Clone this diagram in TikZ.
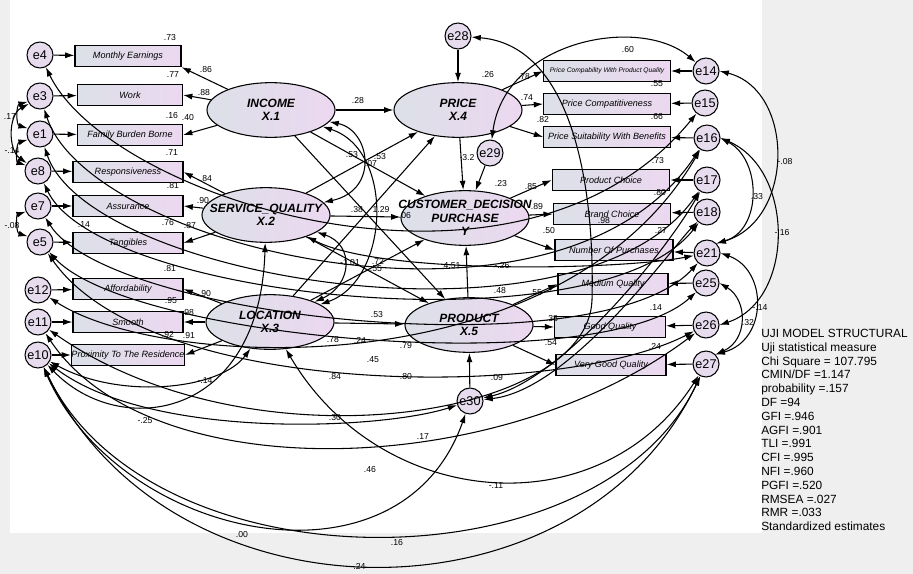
\documentclass[tikz,border=0pt]{standalone}
\usepackage{fontspec}
\setmainfont{Liberation Sans}
\usetikzlibrary{arrows.meta,shapes.geometric}
\definecolor{bgray}{HTML}{EFEFEF}
\definecolor{boxL}{HTML}{DCE0E8}
\definecolor{boxR}{HTML}{ECD8F0}
\definecolor{errF}{HTML}{E6DCEE}
\begin{document}
\begin{tikzpicture}[x=0.75pt,y=-0.75pt,
  ebox/.style={draw,circle,minimum size=19.5pt,inner sep=0pt,fill=errF,line width=0.8pt,font=\fontsize{9.5}{10}\selectfont},
  ind/.style={draw,rectangle,minimum height=16pt,inner sep=0pt,left color=boxL,right color=boxR,line width=0.8pt,font=\fontsize{6.8}{7.5}\selectfont\itshape},
  lat/.style={draw,ellipse,minimum width=96pt,minimum height=41pt,inner sep=0pt,left color=boxL,right color=boxR,line width=0.8pt},
  latt/.style={font=\fontsize{9}{10}\selectfont\bfseries\itshape,align=center,inner sep=0pt},
  lb/.style={font=\fontsize{6.5}{7}\selectfont,inner sep=0pt},
  arr/.style={-{Latex[length=7pt,width=4.5pt]},line width=0.8pt},
  cov/.style={{Latex[length=7pt,width=4.5pt]}-{Latex[length=7pt,width=4.5pt]},line width=0.8pt},
]
\fill[bgray] (0,0) rectangle (913,574);
\fill[white] (10,0) rectangle (762,533);
\useasboundingbox (0,0) rectangle (913,574);

% left error terms
\node[ebox] (e4) at (40,55) {e4};
\node[ebox] (e3) at (40,96) {e3};
\node[ebox] (e1) at (40,134) {e1};
\node[ebox] (e8) at (38,171) {e8};
\node[ebox] (e7) at (38,206) {e7};
\node[ebox] (e5) at (40,242) {e5};
\node[ebox] (e12) at (38,290) {e12};
\node[ebox] (e11) at (38,322) {e11};
\node[ebox] (e10) at (38,355) {e10};

% left indicators
\node[ind,minimum width=79.5pt] (m1) at (128,56) {Monthly Earnings};
\node[ind,minimum width=78.75pt] (m2) at (130,95) {Work};
\node[ind,minimum width=78.75pt] (m3) at (130,135) {Family Burden Borne};
\node[ind,minimum width=82.5pt] (m4) at (128,172) {Responsiveness};
\node[ind,minimum width=82.5pt] (m5) at (128,206) {Assurance};
\node[ind,minimum width=82.5pt] (m6) at (128,243) {Tangibles};
\node[ind,minimum width=82.5pt] (m7) at (128,289) {Affordability};
\node[ind,minimum width=82.5pt] (m8) at (128,322) {Smooth};
\node[ind,minimum width=82.5pt] (m9) at (128,355) {Proximity To The Residence};

% latent variables
\node[lat,label={[latt]center:{INCOME\\X.1}}] (X1) at (271,110) {};
\node[lat,label={[latt]center:{SERVICE\_QUALITY\\X.2}}] (X2) at (266,215) {};
\node[lat,label={[latt]center:{LOCATION\\X.3}}] (X3) at (270,322) {};
\node[lat,label={[latt]center:{PRICE\\X.4}}] (X4) at (458,110) {};
\node[lat,label={[latt]center:{CUSTOMER\_DECISION\\PURCHASE\\Y}}] (Y) at (465,218) {};
\node[lat,label={[latt]center:{PRODUCT\\X.5}}] (X5) at (469,325) {};

% structural disturbances
\node[ebox] (e28) at (458,36) {e28};
\node[ebox] (e29) at (490,153) {e29};
\node[ebox] (e30) at (470,401) {e30};

% right indicators
\node[ind,minimum width=95pt,font=\fontsize{5}{5.5}\selectfont\itshape] (r1) at (607,71) {Price Compability With Product Quality};
\node[ind,minimum width=95pt] (r2) at (607,104) {Price Compatitiveness};
\node[ind,minimum width=95pt] (r3) at (607,137) {Price Suitability With Benefits};
\node[ind,minimum width=88pt] (r4) at (611,180) {Product Choice};
\node[ind,minimum width=88pt] (r5) at (612,214) {Brand Choice};
\node[ind,minimum width=88.5pt] (r6) at (614,250) {Number Of Purchases};
\node[ind,minimum width=82.5pt] (r7) at (613,284) {Medium Quality};
\node[ind,minimum width=83pt] (r8) at (610,327) {Good Quality};
\node[ind,minimum width=82.5pt] (r9) at (611,365) {Very Good Quality};

% right error terms
\node[ebox] (e14) at (706,71) {e14};
\node[ebox] (e15) at (705,103) {e15};
\node[ebox] (e16) at (707,138) {e16};
\node[ebox] (e17) at (707,180) {e17};
\node[ebox] (e18) at (707,212) {e18};
\node[ebox] (e21) at (707,253) {e21};
\node[ebox] (e25) at (706,283) {e25};
\node[ebox] (e26) at (706,325) {e26};
\node[ebox] (e27) at (706,364) {e27};

% error -> indicator
\foreach \e/\m in {e4/m1,e3/m2,e1/m3,e8/m4,e7/m5,e5/m6,e12/m7,e11/m8,e10/m9,
  e14/r1,e15/r2,e16/r3,e17/r4,e18/r5,e21/r6,e25/r7,e26/r8,e27/r9}
  \draw[arr] (\e) -- (\m);

% loadings
\draw[arr] (X1) -- (m1.south east);
\foreach \a/\b in {X1/m2,X1/m3,X2/m4,X2/m5,X2/m6,X3/m7,X3/m8,X3/m9}
  \draw[arr] (\a) -- (\b.east);
\foreach \a/\b in {X4/r1,X4/r2,X4/r3,Y/r4,Y/r5,Y/r6,X5/r7,X5/r8,X5/r9}
  \draw[arr] (\a) -- (\b.west);

% structural paths
\foreach \a/\b in {X1/X4,X1/Y,X1/X5,X2/X4,X2/Y,X2/X5,X3/X4,X3/Y,X3/X5}
  \draw[arr] (\a) -- (\b);
\draw[arr] (X4) -- (Y);
\draw[arr] (X5) -- (Y);
\draw[arr] (e28) -- (X4);
\draw[arr] (e29) -- (Y);
\draw[arr] (e30) -- (X5);

% latent covariances
\draw[cov] (X1) .. controls (370,130) and (380,190) .. (X2);
\draw[cov] (X1) .. controls (395,150) and (390,280) .. (X3);
\draw[cov] (X2) .. controls (355,245) and (352,285) .. (X3);
\draw[cov] (X2) .. controls (380,275) and (620,270) .. (e21);

% left small covariances
\draw[cov] (e3.205) .. controls (16,105) and (16,125) .. (e1.155);
\draw[cov] (e1.205) .. controls (16,143) and (16,162) .. (e8.155);
\draw[cov] (e3.215) .. controls (8,115) and (8,150) .. (e8.145);
\draw[cov] (e7.205) .. controls (16,215) and (16,233) .. (e5.155);

% right covariances
\draw[cov] (e14.east) .. controls (795,90) and (795,220) .. (e21.north east);
\draw[cov] (e16.east) .. controls (762,160) and (762,230) .. (e21.north east);
\draw[cov] (e16.east) .. controls (795,170) and (795,300) .. (e26.east);
\draw[cov] (e21.east) .. controls (768,270) and (768,340) .. (e27.north east);
\draw[cov] (e25.east) .. controls (748,300) and (748,340) .. (e27.north east);
\draw[cov] (e29) .. controls (505,40) and (640,15) .. (e14);

% long covariances
\draw[cov] (e4) .. controls (110,200) and (520,330) .. (e15);
\draw[cov] (e3) .. controls (90,250) and (560,360) .. (e16);
\draw[cov] (e1) .. controls (90,280) and (580,360) .. (e17);
\draw[cov] (e8) .. controls (100,300) and (600,350) .. (e18);
\draw[cov] (e7) .. controls (110,320) and (600,370) .. (e21);
\draw[cov] (e5) .. controls (130,340) and (600,380) .. (e25);
\draw[cov] (e12) .. controls (160,370) and (560,390) .. (e16);
\draw[cov] (e5) .. controls (150,400) and (560,400) .. (e26);
\draw[cov] (e30) .. controls (560,380) and (660,260) .. (e17);
\draw[cov] (e30) .. controls (570,390) and (670,250) .. (e18);
\draw[cov] (e28) .. controls (570,45) and (595,180) .. (592,300) .. controls (588,420) and (250,470) .. (e11);

% bottom covariances
\draw[cov] (e10) .. controls (120,400) and (220,390) .. (X3);
\draw[cov] (e10) .. controls (120,440) and (260,420) .. (X2);
\draw[cov] (e10) .. controls (150,440) and (380,430) .. (e30);
\draw[cov] (e11) .. controls (150,490) and (500,480) .. (e26);
\draw[cov] (e10) .. controls (120,540) and (400,600) .. (e30);
\draw[cov] (e10) .. controls (150,590) and (600,590) .. (e27);
\draw[cov] (e10) .. controls (170,630) and (580,630) .. (e27);
\draw[cov] (X3) .. controls (380,510) and (600,530) .. (e27);

% labels
\foreach \t/\x/\y in {.73/170/38,.86/206/70,.77/173/75,.88/204/93,.16/172/116,.40/188/118,
  .71/172/153,.84/206/179,.81/173/186,.90/203/201,.76/168/223,.87/190/226,.14/84/225,
  .81/170/269,.90/205/294,.95/171/301,.98/188/313,.92/168/335,.91/189/336,
  .17/10/117,-.14/12/151,-.08/12/226,
  .28/358/101,.53/352/155,.53/380/157,.07/371/164,.38/357/210,1.29/381/210,.06/405/216,
  -1.01/350/263,.72/378/261,.55/376/269,.53/377/315,.78/333/340,.24/360/340,.79/406/346,
  .45/373/360,.80/406/377,.84/335/377,-.14/205/381,-.25/145/421,.30/335/418,.17/423/437,
  .46/370/470,-.11/496/486,.00/242/535,.16/397/543,-.24/358/566,.09/497/378,
  .26/488/75,.78/524/77,.74/527/98,.82/543/120,.60/628/50,.55/657/84,.66/657/117,.73/658/161,
  -3.2/467/158,.23/501/184,.85/531/187,.89/537/207,.50/549/231,.80/660/193,.98/604/221,.27/661/230,
  4.51/452/266,-.26/502/266,.48/500/291,.55/536/293,.38/552/319,.14/656/308,.54/551/343,.24/655/346,
  -.08/785/162,.33/757/197,-.16/782/233,-.14/760/308,.32/748/323}
  \node[lb] at (\x,\y) {\t};

% statistics
\node[anchor=north west,align=left,inner sep=0pt,font=\fontsize{8.9}{10.35}\selectfont] (stats) at (761,329)
{UJI MODEL STRUCTURAL\\Uji statistical measure\\Chi Square = 107.795\\CMIN/DF =1.147\\probability =.157\\DF =94\\GFI =.946\\AGFI =.901\\TLI =.991\\CFI =.995\\NFI =.960\\PGFI =.520\\RMSEA =.027\\RMR =.033\\Standardized estimates};
\end{tikzpicture}
\end{document}
